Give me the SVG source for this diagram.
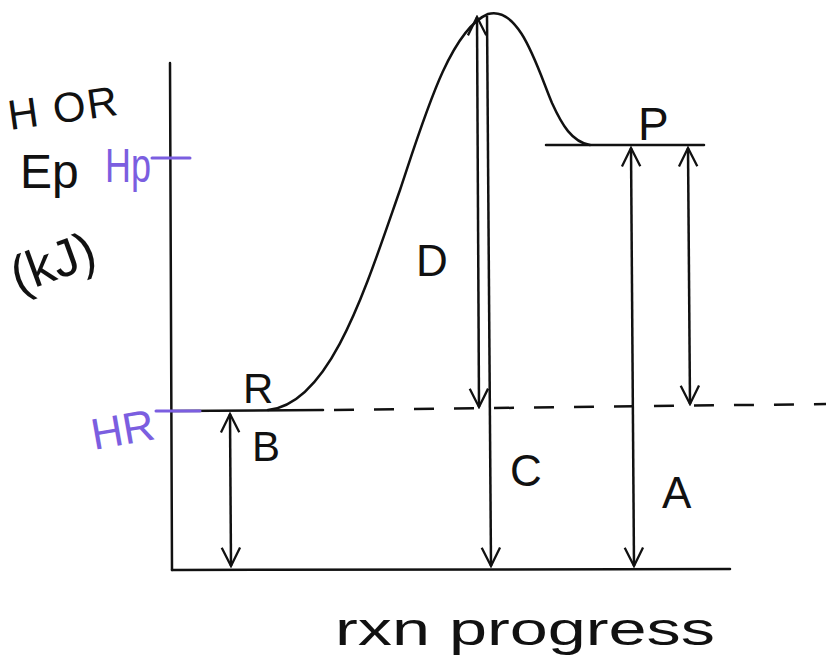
<svg xmlns="http://www.w3.org/2000/svg" width="826" height="669" viewBox="0 0 826 669">
<style>
.ln{stroke:#111;stroke-width:2.5;fill:none;stroke-linecap:round}
.pl{stroke:#7b5ee0;stroke-width:3;fill:none;stroke-linecap:round}
.t{font-family:"Liberation Sans",Arial,sans-serif;fill:#111}
.tp{font-family:"Liberation Sans",Arial,sans-serif;fill:#7b5ee0}
.ar{stroke:#111;stroke-width:2.5;fill:none}
</style>
<defs>
<marker id="v" viewBox="0 0 24 24" refX="22" refY="12" markerWidth="22" markerHeight="22" markerUnits="userSpaceOnUse" orient="auto-start-reverse">
<polyline points="2,2 22,12 2,22" fill="none" stroke="#111" stroke-width="2.5"/>
</marker>
</defs>
<rect width="826" height="669" fill="#fff"/>
<g id="axes">
<line class="ln" x1="170" y1="63" x2="172" y2="570"/>
<line class="ln" x1="172" y1="570" x2="730" y2="569"/>
</g>
<g id="reactant-level">
<line class="ln" x1="172" y1="411" x2="323" y2="410"/>
<line class="pl" x1="156" y1="411" x2="200" y2="411"/>
</g>
<g id="product-level">
<line class="ln" x1="546" y1="145" x2="704" y2="145"/>
<line class="pl" x1="152" y1="158" x2="190" y2="158"/>
</g>
<g id="hr-dashed">
<line x1="334" y1="410" x2="826" y2="404" stroke="#111" stroke-width="2.5" stroke-dasharray="20 20"/>
</g>
<g id="curve">
<path class="ln" d="M 268 410 C 330 404, 365 290, 400 190 C 425 115, 450 30, 488 14 C 520 5, 538 70, 552 103 C 562 125, 572 142, 590 145"/>
</g>
<g id="connectors">
<line class="ar" x1="230" y1="414" x2="231" y2="566" marker-start="url(#v)" marker-end="url(#v)"/>
<line class="ar" x1="477" y1="17" x2="479" y2="407" marker-start="url(#v)" marker-end="url(#v)"/>
<line class="ar" x1="487" y1="16" x2="491" y2="566" marker-end="url(#v)"/>
<line class="ar" x1="631" y1="148" x2="634" y2="566" marker-start="url(#v)" marker-end="url(#v)"/>
<line class="ar" x1="688" y1="148" x2="690" y2="404" marker-start="url(#v)" marker-end="url(#v)"/>
</g>
<g id="labels">
<text class="t" x="10" y="130" font-size="42" textLength="110" transform="rotate(-8 10 130)">H OR</text>
<text class="t" x="20" y="188" font-size="48">Ep</text>
<text class="tp" x="105" y="182" font-size="48" textLength="46" lengthAdjust="spacingAndGlyphs">Hp</text>
<text class="t" x="18" y="294" font-size="52" transform="rotate(-20 18 294)">(kJ)</text>
<text class="tp" x="94" y="450" font-size="44" transform="rotate(-10 94 450)">HR</text>
<text class="t" x="243" y="403" font-size="42">R</text>
<text class="t" x="252" y="461" font-size="42">B</text>
<text class="t" x="416" y="276" font-size="44">D</text>
<text class="t" x="510" y="486" font-size="44">C</text>
<text class="t" x="662" y="508" font-size="44">A</text>
<text class="t" x="638" y="140" font-size="46">P</text>
<text class="t" x="335" y="645" font-size="46" textLength="380" lengthAdjust="spacingAndGlyphs">rxn progress</text>
</g>
</svg>
